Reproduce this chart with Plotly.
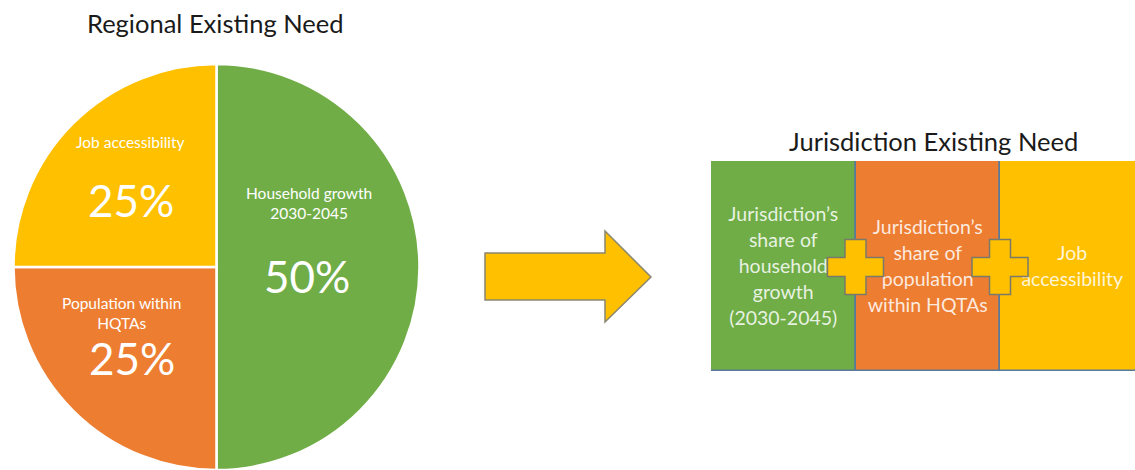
import plotly.graph_objects as go

W, H = 1135, 470

# ---- data ----
pie_labels = ["Household growth<br>2030-2045", "Population within<br>HQTAs", "Job accessibility"]
pie_values = [50, 25, 25]
pie_colors = ["#70AD47", "#ED7D31", "#FFC000"]

box_categories = ["Household growth", "Population within HQTAs", "Job accessibility"]
box_lines = [
    ["Jurisdiction’s", "share of", "household", "growth", "(2030-2045)"],
    ["Jurisdiction’s", "share of", "population", "within HQTAs"],
    ["Job", "accessibility"],
]
box_colors = ["#70AD47", "#ED7D31", "#FFC000"]
box_fill = [1, 1, 1]

title_left = "Regional Existing Need"
title_right = "Jurisdiction Existing Need"

FONT = "Lato"


def px(x):
    return x / W


def py(y):
    return 1 - y / H


fig = go.Figure()

# ---- pie ----
cx, cy, r = 216.5, 267, 203
fig.add_trace(go.Pie(
    labels=pie_labels, values=pie_values, sort=False, direction="clockwise", rotation=0,
    marker=dict(colors=pie_colors, line=dict(color="white", width=2.5)),
    textinfo="none", hoverinfo="skip", showlegend=False,
    domain=dict(x=[px(cx - r), px(cx + r)], y=[py(cy + r), py(cy - r)]),
))

# ---- boxes as bars ----
seg = 144.5
x0_box = 711
fig.add_trace(go.Bar(
    x=box_categories, y=box_fill, width=1, marker=dict(color=box_colors, line=dict(color="#5A7A99", width=1.5)),
    xaxis="x2", yaxis="y2", hoverinfo="skip", showlegend=False, cliponaxis=False,
))

box_top, box_bot = 161, 371
center_px = 268.5
spacing = 26
for cat, lines in zip(box_categories, box_lines):
    n = len(lines)
    ys = []
    for i in range(n):
        ypix = center_px + (i - (n - 1) / 2) * spacing
        ys.append((box_bot - ypix) / (box_bot - box_top))
    fig.add_trace(go.Scatter(
        x=[cat] * n, y=ys, text=lines, mode="text",
        textfont=dict(family=FONT, size=19.5, color="rgba(255,255,255,0.85)"),
        xaxis="x2", yaxis="y2", hoverinfo="skip", showlegend=False, cliponaxis=False,
    ))

# ---- pie labels ----
annotations = []
label_pos = [(309, 203.5, 307, 276), (121, 313, 132, 358), (130, 142, 131, 200)]
for lab, val, (lx, ly, vx, vy) in zip(pie_labels, pie_values, label_pos):
    annotations.append(dict(x=px(lx), y=py(ly), xref="paper", yref="paper", text=lab, showarrow=False,
                            xanchor="center", yanchor="middle",
                            font=dict(family=FONT, size=15.5, color="white"), align="center"))
    annotations.append(dict(x=px(vx), y=py(vy), xref="paper", yref="paper", text=f"{val}%", showarrow=False,
                            xanchor="center", yanchor="middle",
                            font=dict(family=FONT, size=44, color="white")))

annotations.append(dict(x=px(215), y=py(23), xref="paper", yref="paper", text=title_left, showarrow=False,
                        xanchor="center", yanchor="middle",
                        font=dict(family=FONT, size=25.5, color="#1a1a1a")))
annotations.append(dict(x=px(933), y=py(141), xref="paper", yref="paper", text=title_right, showarrow=False,
                        xanchor="center", yanchor="middle",
                        font=dict(family=FONT, size=25.5, color="#1a1a1a")))

# ---- shapes: arrow and plus signs ----
def path(points):
    return "M " + " L ".join(f"{px(x):.5f},{py(y):.5f}" for x, y in points) + " Z"


arrow = [(485, 253), (605, 253), (605, 231), (651, 277), (605, 322), (605, 300), (485, 300)]
shapes = [dict(type="path", xref="paper", yref="paper", path=path(arrow), fillcolor="#FFC000",
               line=dict(color="#8A8670", width=1.5), layer="above")]


def plus(cx_, cy_, hw=28, hh=9.5, vw=10.5, vh=27.5):
    pts = [(cx_ - vw, cy_ - vh), (cx_ + vw, cy_ - vh), (cx_ + vw, cy_ - hh), (cx_ + hw, cy_ - hh),
           (cx_ + hw, cy_ + hh), (cx_ + vw, cy_ + hh), (cx_ + vw, cy_ + vh), (cx_ - vw, cy_ + vh),
           (cx_ - vw, cy_ + hh), (cx_ - hw, cy_ + hh), (cx_ - hw, cy_ - hh), (cx_ - vw, cy_ - hh)]
    return path(pts)


for bx in (x0_box + seg, x0_box + 2 * seg):
    shapes.append(dict(type="path", xref="paper", yref="paper", path=plus(bx, 267), fillcolor="#FFC000",
                       line=dict(color="#7A7A6A", width=1.5), layer="above"))

fig.update_layout(
    width=W, height=H, margin=dict(l=0, r=0, t=0, b=0),
    paper_bgcolor="white", plot_bgcolor="rgba(0,0,0,0)",
    bargap=0, showlegend=False,
    xaxis2=dict(domain=[px(x0_box), 1], range=[-0.5, -0.5 + (W - x0_box) / seg], visible=False,
                anchor="y2", fixedrange=True),
    yaxis2=dict(domain=[py(box_bot), py(box_top)], range=[0, 1], visible=False, anchor="x2", fixedrange=True),
    annotations=annotations, shapes=shapes,
)

fig.write_html("out.html", config={"displayModeBar": False},
               post_script="document.body.style.margin='0';document.body.style.overflow='hidden';")
